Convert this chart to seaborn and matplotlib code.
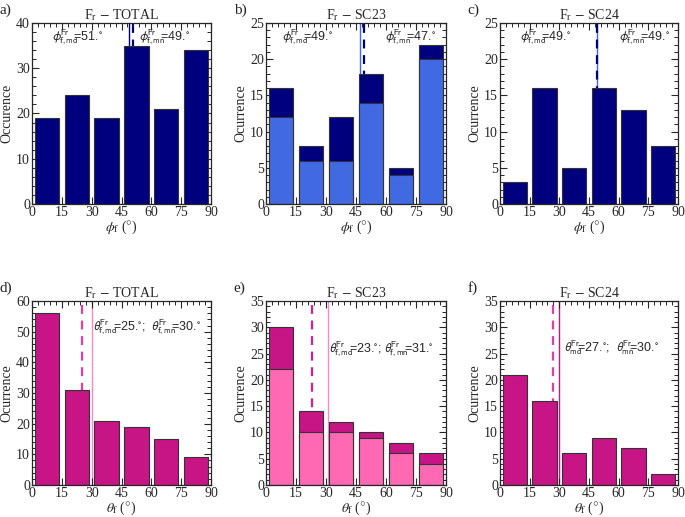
import numpy as np
import pandas as pd
import matplotlib
matplotlib.use("Agg")
import matplotlib.pyplot as plt
import seaborn as sns
from matplotlib.ticker import MultipleLocator, AutoMinorLocator

# bin centres (15 degree bins)
bin_centres = [7.5, 22.5, 37.5, 52.5, 67.5, 82.5]

# phi_f histograms
phi_total = [19, 24, 19, 35, 21, 34]
phi_sc23 = [16, 8, 12, 18, 5, 22]
phi_sc23_sub = [12, 6, 6, 14, 4, 20]
phi_sc24 = [3, 16, 5, 16, 13, 8]

# theta_f histograms
theta_total = [56, 31, 21, 19, 15, 9]
theta_sc23 = [30, 14, 12, 10, 8, 6]
theta_sc23_sub = [22, 10, 10, 9, 6, 4]
theta_sc24 = [21, 16, 6, 9, 7, 2]

# median / mean values
phi_md = [51, 49, 49]
phi_mn = [49, 47, 49]
theta_md = [25, 23, 27]
theta_mn = [30, 31, 30]

titles = ["TOTAL", "SC23", "SC24"]

sns.set_theme(style="ticks")
plt.rcParams["font.family"] = ["Liberation Serif", "DejaVu Serif"]
plt.rcParams["mathtext.fontset"] = "stix"
plt.rcParams["xtick.direction"] = "in"
plt.rcParams["ytick.direction"] = "in"

NAVY = "#00007f"
ROYAL = "#4169e1"
MVR = "#c71585"
HOT = "#ff69b4"

fig = plt.figure(figsize=(6.85, 5.17), dpi=100)

lefts = [32 / 685, 266 / 685, 500 / 685]
widths = [179 / 685, 180 / 685, 178 / 685]
top_row = (1 - 204 / 517, 181 / 517)
bot_row = (1 - 485 / 517, 184 / 517)


def panel(pos, counts, sub, color, subcolor, ylim, ymaj, md, mn, md_col, mn_col,
          title, xlab, ylab, label, texts):
    ax = fig.add_axes(pos)
    ax.axvline(mn, color=mn_col, lw=1.0, zorder=0)
    ax.axvline(md, color=md_col, lw=1.6, ls=(0, (4, 3)), zorder=0)
    df = pd.DataFrame({"x": bin_centres, "y": counts})
    sns.barplot(data=df, x="x", y="y", native_scale=True, width=0.82,
                color=color, saturation=1, edgecolor="#333333", linewidth=0.8,
                errorbar=None, ax=ax, zorder=2)
    if sub is not None:
        dfs = pd.DataFrame({"x": bin_centres, "y": sub})
        sns.barplot(data=dfs, x="x", y="y", native_scale=True, width=0.82,
                    color=subcolor, saturation=1, edgecolor="#333333",
                    linewidth=0.8, errorbar=None, ax=ax, zorder=3)
    ax.set_xlim(0, 90)
    ax.set_ylim(*ylim)
    ax.xaxis.set_major_locator(MultipleLocator(15))
    ax.xaxis.set_minor_locator(MultipleLocator(3))
    ax.yaxis.set_major_locator(MultipleLocator(ymaj))
    ax.yaxis.set_minor_locator(AutoMinorLocator(5))
    ax.tick_params(which="both", top=True, right=True, labelsize=10, pad=1.5)
    ax.tick_params(which="major", length=5, width=0.8)
    ax.tick_params(which="minor", length=3, width=0.7)
    for s in ax.spines.values():
        s.set_linewidth(0.9)
        s.set_zorder(5)
    ax.set_title(r"F$_{\rm r}$ $-$ " + title, fontsize=10, pad=3)
    ax.set_xlabel(xlab, fontsize=10, labelpad=0)
    ax.set_ylabel(ylab, fontsize=10, labelpad=2)
    for (tx, ty, s) in texts:
        ax.text(tx, ty, s, transform=ax.transAxes, fontsize=9,
                family=["Liberation Sans", "DejaVu Sans"],
                math_fontfamily="stixsans", zorder=6)
    fig.text(pos[0] - 0.047, pos[1] + pos[3] + 0.012, label, fontsize=11,
             va="bottom", ha="left")
    return ax


phi_lab = r"$\phi_{\rm f}$ ($\degree$)"
theta_lab = r"$\theta_{\rm f}$ ($\degree$)"


def ann(sym, sub, val):
    return r"$\%s^{\rm Fr}_{\!\rm %s}\!\!$=%s.$^{\circ}$" % (sym, sub, val)


# top row: phi
panel((lefts[0], top_row[0], widths[0], top_row[1]), phi_total, None, NAVY, None,
      (0, 40), 10, phi_md[0], phi_mn[0], NAVY, NAVY, titles[0], phi_lab,
      "Occurence", "a)",
      [(0.11, 0.9, ann("phi", "f,md", phi_md[0])),
       (0.60, 0.9, ann("phi", "f,mn", phi_mn[0]))])
panel((lefts[1], top_row[0], widths[1], top_row[1]), phi_sc23, phi_sc23_sub,
      NAVY, ROYAL, (0, 25), 5, phi_md[1], phi_mn[1], NAVY, ROYAL, titles[1],
      phi_lab, "Ocurrence", "b)",
      [(0.09, 0.9, ann("phi", "f,md", phi_md[1])),
       (0.66, 0.9, ann("phi", "f,mn", phi_mn[1]))])
panel((lefts[2], top_row[0], widths[2], top_row[1]), phi_sc24, None, NAVY, None,
      (0, 25), 5, phi_md[2], phi_mn[2], NAVY, ROYAL, titles[2], phi_lab,
      "Ocurrence", "c)",
      [(0.11, 0.9, ann("phi", "f,md", phi_md[2])),
       (0.67, 0.9, ann("phi", "f,mn", phi_mn[2]))])

# bottom row: theta
panel((lefts[0], bot_row[0], widths[0], bot_row[1]), theta_total, None, MVR, None,
      (0, 60), 10, theta_md[0], theta_mn[0], "#e0409a", "#f08cc8", titles[0],
      theta_lab, "Ocurrence", "d)",
      [(0.34, 0.84, ann("theta", "f,md", theta_md[0]) + ";  "
        + ann("theta", "f,mn", theta_mn[0]))])
panel((lefts[1], bot_row[0], widths[1], bot_row[1]), theta_sc23, theta_sc23_sub,
      MVR, HOT, (0, 35), 5, theta_md[1], theta_mn[1], "#d4208c", "#f08cc8",
      titles[1], theta_lab, "Ocurrence", "e)",
      [(0.35, 0.72, ann("theta", "f,md", theta_md[1]) + "; "
        + ann("theta", "f,mn", theta_mn[1]))])
panel((lefts[2], bot_row[0], widths[2], bot_row[1]), theta_sc24, None, MVR, None,
      (0, 35), 5, theta_md[2], theta_mn[2], "#e0409a", MVR, titles[2],
      theta_lab, "Ocurrence", "f)",
      [(0.36, 0.73, ann("theta", "md", theta_md[2]) + ";  "
        + ann("theta", "mn", theta_mn[2]))])

fig.savefig("out.png", dpi=100)
